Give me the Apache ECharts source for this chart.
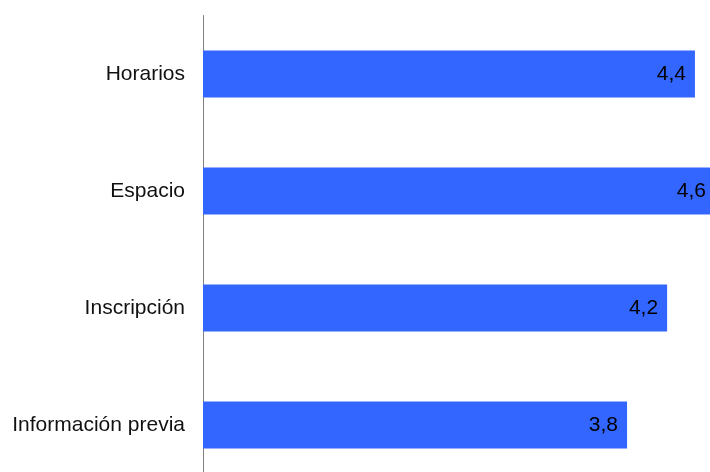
<!DOCTYPE html>
<html>
<head>
<meta charset="utf-8">
<script src="https://cdn.jsdelivr.net/npm/echarts@6/dist/echarts.min.js"></script>
<style>
html,body{margin:0;padding:0;background:#fff;}
#c{width:710px;height:472px;}
</style>
</head>
<body>
<div id="c"></div>
<script>
var categories = ["Horarios", "Espacio", "Inscripción", "Información previa"];
var values = [4.42, 4.6, 4.17, 3.81];

var chart = echarts.init(document.getElementById('c'), null, {renderer: 'canvas'});
chart.setOption({
  animation: false,
  grid: {left: 203, top: 15.5, width: 556.5, height: 468, outerBoundsMode: 'none', containLabel: false},
  xAxis: {
    type: 'value', min: 0, max: 5,
    show: false
  },
  yAxis: {
    type: 'category',
    data: categories,
    inverse: true,
    axisLine: {show: true, lineStyle: {color: '#808080', width: 1}},
    axisTick: {show: false},
    splitLine: {show: false},
    axisLabel: {
      color: '#111', fontSize: 21, fontFamily: 'Liberation Sans, Arial, sans-serif', margin: 18
    }
  },
  series: [{
    type: 'bar',
    data: values,
    barWidth: 47,
    itemStyle: {color: '#3366FF'},
    label: {
      show: true,
      position: 'insideRight',
      distance: 9,
      color: '#000',
      fontSize: 21,
      fontFamily: 'Liberation Sans, Arial, sans-serif',
      formatter: function (p) { return p.value.toFixed(1).replace('.', ','); }
    }
  }]
});
</script>
</body>
</html>
